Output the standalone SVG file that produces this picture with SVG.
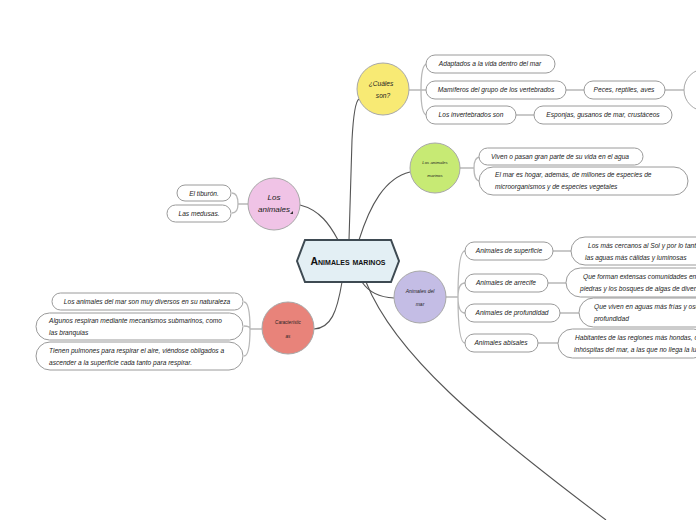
<svg xmlns="http://www.w3.org/2000/svg" width="696" height="520" viewBox="0 0 696 520">
<style>
text{font-family:"Liberation Sans","DejaVu Sans",sans-serif;font-style:italic;fill:#222;}
.p{fill:#fff;stroke:#9a9a9a;stroke-width:1;}
.t{font-size:6.6px;}
.tc{font-size:6.6px;text-anchor:middle;}
.m{fill:none;stroke:#555;stroke-width:1.1;}
.b{fill:none;stroke:#b8b8b8;stroke-width:1.3;}
.c{stroke:#a8a8a8;stroke-width:1;}
</style>
<rect width="696" height="520" fill="#fff"/>
<g id="connectors">
<path class="m" d="M349,240 L352,140 Q354,102 359,99"/>
<path class="m" d="M359,240 C370,205 385,178 410,172"/>
<path class="m" d="M300,205 C320,210 330,225 338,240"/>
<path class="m" d="M342,282 C337,312 331,328 314,329"/>
<path class="m" d="M362,282 Q372,297 394,298"/>
<path class="m" d="M366,282 C395,355 480,425 606,520"/>
<path class="b" d="M409,90 L421,90 M421,90 Q421,64 427,64 M421,90 L427,90 M421,90 Q421,115 427,115"/>
<path class="b" d="M566,90 L584,90 M665,90 L684,90 M516,115 L534,115"/>
<path class="b" d="M460,168 L474,168 Q474,157 480,157 M474,168 Q474,181 480,181"/>
<path class="b" d="M248,204 L238,204 Q238,193 232,193 M238,204 Q238,213 232,213"/>
<path class="b" d="M262,329 L250,329 Q250,302 244,302 M250,329 Q250,326 244,326 M250,329 Q250,356 244,356"/>
<path class="b" d="M446,297 L458,297 Q458,251 465,251 M458,297 Q458,283 465,283 M458,297 Q458,313 465,313 M458,297 Q458,343 465,343"/>
<path class="b" d="M553,251 L571,251 M548,283 L566,283 M560,313 L579,313 M538,343 L558,343"/>
</g>
<g id="center">
<polygon points="297,261 305,240 391,240 399,261 391,282 305,282" fill="#e3eff4" stroke="#3e4a52" stroke-width="2"/>
<text x="348" y="265" style="font-size:10.5px;font-variant:small-caps;font-style:normal;font-weight:bold;text-anchor:middle;fill:#111">Animales marinos</text>
</g>
<g id="cuales">
<circle class="c" cx="383" cy="89" r="26" fill="#f8ea74"/>
<text class="tc" x="381" y="86">¿Cuáles</text>
<text class="tc" x="383" y="98">son?</text>
</g>
<g id="adaptados"><rect class="p" x="426" y="55" width="129" height="18" rx="9"/><text class="tc" x="490" y="66">Adaptados a la vida dentro del mar</text></g>
<g id="mamiferos"><rect class="p" x="426" y="81" width="140" height="18" rx="9"/><text class="tc" x="496" y="92">Mamíferos del grupo de los vertebrados</text></g>
<g id="invertebrados"><rect class="p" x="426" y="106" width="90" height="18" rx="9"/><text class="tc" x="471" y="117">Los invertebrados son</text></g>
<g id="peces"><rect class="p" x="584" y="81" width="81" height="18" rx="9"/><text class="tc" x="624" y="92">Peces, reptiles, aves</text></g>
<g id="circulo"><circle class="c" cx="705" cy="90" r="21" fill="#fff"/></g>
<g id="esponjas"><rect class="p" x="534" y="106" width="138" height="18" rx="9"/><text class="tc" x="603" y="117">Esponjas, gusanos de mar, crustáceos</text></g>
<g id="marinos">
<circle class="c" cx="435" cy="168" r="25" fill="#c7ea74"/>
<text x="435" y="164" style="font-size:4.3px;text-anchor:middle">Los animales</text>
<text x="435" y="177" style="font-size:4.3px;text-anchor:middle">marinos</text>
</g>
<g id="viven"><rect class="p" x="479" y="148" width="164" height="17" rx="8.5"/><text class="tc" x="560" y="158.5">Viven o pasan gran parte de su vida en el agua</text></g>
<g id="hogar"><rect class="p" x="479" y="167" width="209" height="28" rx="14"/><text class="t" x="495" y="177">El mar es hogar, además, de millones de especies de</text><text class="t" x="495" y="189">microorganismos y de especies vegetales</text></g>
<g id="animales">
<circle class="c" cx="274" cy="204" r="26" fill="#f0c3e6"/>
<text x="274" y="200" style="font-size:8px;text-anchor:middle">Los</text>
<text x="274" y="212" style="font-size:8px;text-anchor:middle">animales</text>
<path d="M290,214 L293,211 L293,214 Z" fill="#333"/>
</g>
<g id="tiburon"><rect class="p" x="177" y="185" width="54" height="16" rx="8"/><text class="tc" x="204" y="195.5">El tiburón.</text></g>
<g id="medusas"><rect class="p" x="167" y="205" width="64" height="17" rx="8.5"/><text class="tc" x="199" y="216">Las medusas.</text></g>
<g id="caracteristicas">
<circle class="c" cx="288" cy="328" r="26" fill="#e8837a"/>
<text x="288" y="324" style="font-size:4.6px;text-anchor:middle">Característic</text>
<text x="288" y="338" style="font-size:4.6px;text-anchor:middle">as</text>
</g>
<g id="diversos"><rect class="p" x="52" y="293" width="191" height="17" rx="8.5"/><text class="tc" x="147" y="304">Los animales del mar son muy diversos en su naturaleza</text></g>
<g id="respiran"><rect class="p" x="36" y="313" width="207" height="27" rx="13.5"/><text class="t" x="49" y="323">Algunos respiran mediante mecanismos submarinos, como</text><text class="t" x="49" y="335">las branquias</text></g>
<g id="pulmones"><rect class="p" x="36" y="342" width="207" height="28" rx="14"/><text class="t" x="49" y="353">Tienen pulmones para respirar el aire, viéndose obligados a</text><text class="t" x="49" y="365">ascender a la superficie cada tanto para respirar.</text></g>
<g id="delmar">
<circle class="c" cx="420" cy="297" r="26" fill="#c4bde5"/>
<text x="420" y="293" style="font-size:5px;text-anchor:middle">Animales del</text>
<text x="420" y="306" style="font-size:5px;text-anchor:middle">mar</text>
</g>
<g id="superficie"><rect class="p" x="465" y="242" width="88" height="18" rx="9"/><text class="tc" x="509" y="253">Animales de superficie</text></g>
<g id="arrecife"><rect class="p" x="465" y="274" width="83" height="18" rx="9"/><text class="tc" x="506" y="285">Animales de arrecife</text></g>
<g id="profundidad"><rect class="p" x="465" y="304" width="95" height="18" rx="9"/><text class="tc" x="512" y="315">Animales de profundidad</text></g>
<g id="abisales"><rect class="p" x="465" y="334" width="73" height="18" rx="9"/><text class="tc" x="501" y="345">Animales abisales</text></g>
<g id="sup-d"><rect class="p" x="571" y="237" width="150" height="28" rx="14"/><text class="t" x="588" y="248">Los más cercanos al Sol y por lo tanto,</text><text class="t" x="585" y="260">las aguas más cálidas y luminosas</text></g>
<g id="arr-d"><rect class="p" x="566" y="268" width="150" height="29" rx="14.5"/><text class="t" x="583" y="279">Que forman extensas comunidades en las</text><text class="t" x="580" y="291">piedras y los bosques de algas de diversos</text></g>
<g id="pro-d"><rect class="p" x="579" y="298" width="150" height="29" rx="14.5"/><text class="t" x="594" y="309">Que viven en aguas más frías y oscuras</text><text class="t" x="594" y="321">profundidad</text></g>
<g id="abi-d"><rect class="p" x="558" y="329" width="150" height="29" rx="14.5"/><text class="t" x="575" y="340">Habitantes de las regiones más hondas, oscuras</text><text class="t" x="574" y="352">inhóspitas del mar, a las que no llega la luz</text></g>
</svg>
